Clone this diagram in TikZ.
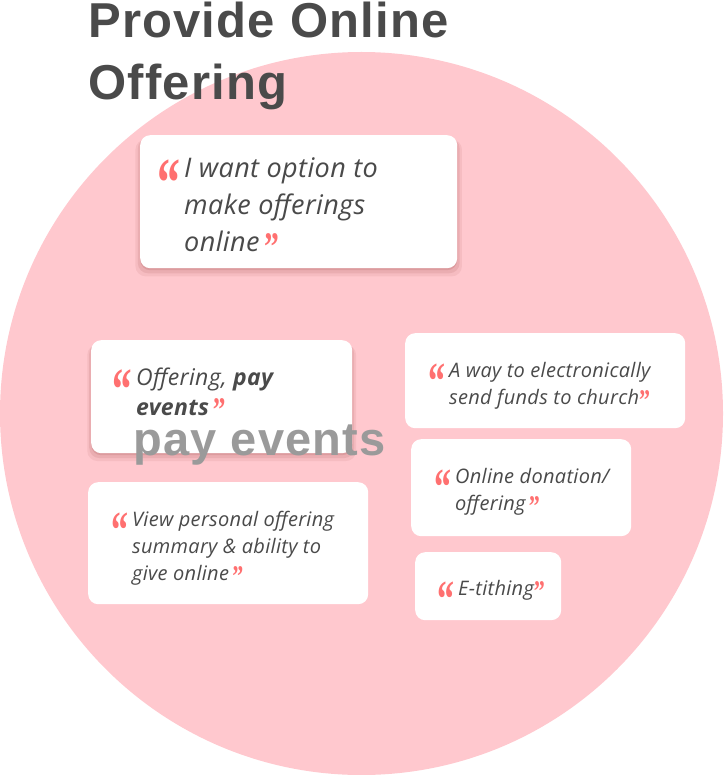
\documentclass[tikz,border=0pt]{standalone}
\usepackage{fontspec}
\setmainfont[LetterSpace=1.5]{Open Sans}
\newfontfamily\titlefont[LetterSpace=2.5]{Liberation Sans}
\newfontfamily\quotefont{Liberation Serif}
\usetikzlibrary{shadows}

\definecolor{circlepink}{RGB}{255,200,206}
\definecolor{inkgray}{RGB}{74,74,74}
\definecolor{quotered}{RGB}{255,112,112}
\definecolor{ghostgray}{RGB}{154,154,154}

\newcommand{\qopen}{\llap{\textcolor{quotered}{\smash{\raisebox{-1.05em}{\scalebox{1.7}[2.6]{\quotefont\bfseries\upshape “}}}}\hspace{4pt}}}
\newcommand{\qclose}{\textcolor{quotered}{\smash{\raisebox{-0.3em}{\scalebox{1.1}[1.5]{\quotefont\bfseries\upshape ”}}}}}

\begin{document}
\begin{tikzpicture}[
  x=1pt, y=-1pt,
  card/.style={rectangle, rounded corners=10pt, fill=white, anchor=north west,
               inner sep=0pt},
  lifted/.style={
    drop shadow={shadow xshift=0pt, shadow yshift=-6pt, shadow scale=1.03,
                 opacity=0.06, fill=red!40!black},
    drop shadow={shadow xshift=0pt, shadow yshift=-4pt, shadow scale=1.015,
                 opacity=0.08, fill=red!40!black},
    drop shadow={shadow xshift=0pt, shadow yshift=-2pt,
                 opacity=0.10, fill=red!40!black}},
  saying/.style={anchor=base west, align=left, text=inkgray, inner sep=0pt,
                 font=\itshape\fontsize{20}{27}\selectfont},
]
\useasboundingbox (0,0) rectangle (723,775);

% ---- 背景圆 ----
\node[circle, fill=circlepink, minimum size=723pt, inner sep=0pt] (blob) at (361.5,413.5) {};

% ---- 标题 ----
\node[anchor=base west, align=left, text=inkgray, inner sep=0pt,
      font=\titlefont\bfseries\fontsize{49}{62}\selectfont] (title) at (88,100)
  {Provide Online\\Offering};

% ---- 卡片 ----
\node[card, lifted, minimum width=317pt, minimum height=133pt] (want) at (140,135) {};
\node[card, lifted, minimum width=261pt, minimum height=113pt] (pay) at (91,340) {};
\node[card, minimum width=280pt, minimum height=95pt] (funds) at (405,333) {};
\node[card, minimum width=220pt, minimum height=97pt] (donation) at (411,439) {};
\node[card, minimum width=280pt, minimum height=122pt] (summary) at (88,482) {};
\node[card, minimum width=146pt, minimum height=68pt] (tithe) at (415,552) {};

% ---- 引语 ----
\node[saying, font=\itshape\fontsize{27}{37}\selectfont] (wanttxt) at (184,252)
  {\qopen I want option to\\make offerings\\online\,\qclose};
\node[saying, font=\itshape\fontsize{23}{30}\selectfont] (paytxt) at (136,415)
  {\qopen Offering, \textbf{pay}\\\textbf{events}\,\qclose};
\node[saying] (fundstxt) at (449,404)
  {\qopen A way to electronically\\send funds to church\qclose};
\node[saying] (donationtxt) at (455,510)
  {\qopen Online donation/\\offering\,\qclose};
\node[saying] (summarytxt) at (132,580)
  {\qopen View personal offering\\summary \& ability to\\give online\,\qclose};
\node[saying] (tithetxt) at (458,595)
  {\qopen E-tithing\qclose};

% ---- 叠字 ----
\node[anchor=base west, inner sep=0pt, text=ghostgray,
      font=\titlefont\bfseries\fontsize{47}{48}\selectfont] (ghost) at (133,455)
  {pay events};

\end{tikzpicture}
\end{document}
